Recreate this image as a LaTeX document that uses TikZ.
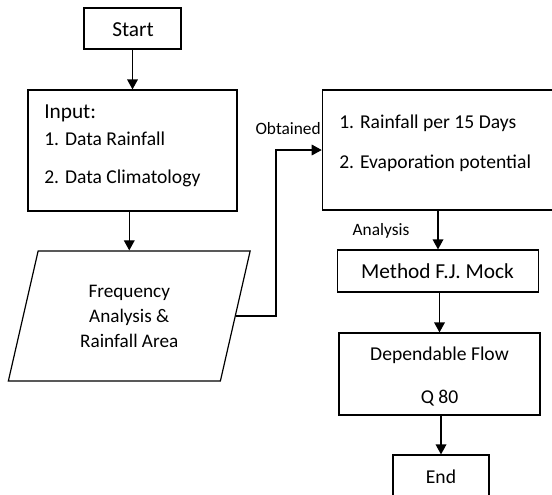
\documentclass[tikz,border=0pt]{standalone}
\usepackage{fontspec}
\setmainfont{Carlito}
\usetikzlibrary{arrows.meta,shapes.geometric}
\tikzset{
  box/.style={draw, line width=0.9pt, inner sep=0pt},
  txt/.style={inner sep=0pt, font=\fontsize{14.7}{17}\selectfont},
  big/.style={inner sep=0pt, font=\fontsize{16}{19}\selectfont},
  lbl/.style={inner sep=0pt, font=\fontsize{13}{15}\selectfont},
  arr/.style={-{Triangle[length=7.5pt,width=8pt]}, line width=0.9pt},
}
\begin{document}
\begin{tikzpicture}[x=0.75pt,y=-0.75pt]
    \useasboundingbox (0,0) rectangle (552,494);
    \clip (0,0) rectangle (552,494);
    % boxes
    \node[box, minimum width=72.75pt, minimum height=30.75pt] (start) at (132.5,28.5) {};
    \node[box, minimum width=156.75pt, minimum height=90.75pt] (in) at (132.5,150.5) {};
    \node[box, trapezium, trapezium left angle=76, trapezium right angle=104,
          trapezium stretches=true, inner sep=2pt, align=center,
          font=\fontsize{14.4}{18.75}\selectfont,
          minimum width=181.5pt, minimum height=97.5pt] (freq) at (129.25,316)
          {Frequency\\Analysis \&\\Rainfall Area};
    \node[box, minimum width=190pt, minimum height=90pt] (obt) at (449,150) {};
    \node[box, minimum width=150.75pt, minimum height=31.5pt] (mock) at (438,271) {};
    \node[box, minimum width=150.75pt, minimum height=61.5pt] (flow) at (439.5,374) {};
    \node[box, minimum width=72pt, minimum height=30.75pt] (end) at (441,475.5) {};
    % texts
    \node[big] (starttxt) at (133,30) {Start};
    \node[big, anchor=west] (intxt) at (44,113) {Input:};
    \node[txt, anchor=west] (in1) at (44,139) {1. Data Rainfall};
    \node[txt, anchor=west] (in2) at (44,178) {2. Data Climatology};
    \node[txt, anchor=west] (obt1) at (339,123) {1. Rainfall per 15 Days};
    \node[txt, anchor=west] (obt2) at (339,163) {2. Evaporation potential};
    \node[big] (mocktxt) at (437.5,271) {Method F.J. Mock};
    \node[txt] (flow1) at (439.5,355) {Dependable Flow};
    \node[txt] (flow2) at (439.5,398) {Q 80};
    \node[txt] (endtxt) at (441,477) {End};
    \node[lbl, anchor=east] (obtlbl) at (321,129) {Obtained};
    \node[lbl] (anlbl) at (381,231) {Analysis};
    % connectors
    \coordinate (bend) at (276,150);
    \draw[arr] (start.south) -- (in.north);
    \draw[arr] (in.south -| freq.north) -- (freq.north);
    \draw[arr] (freq.east) -| (bend) -- (obt.west);
    \draw[arr] (mock.north |- obt.south) -- (mock.north);
    \draw[arr] (mock.south -| flow.north) -- (flow.north);
    \draw[arr] (flow.south -| end.north) -- (end.north);
\end{tikzpicture}
\end{document}
